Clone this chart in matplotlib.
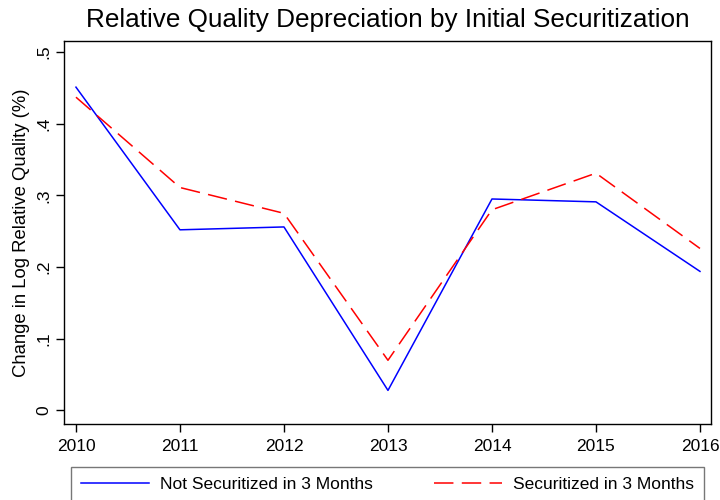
import matplotlib
matplotlib.use("Agg")
import matplotlib.pyplot as plt
from matplotlib.ticker import FixedLocator

plt.rcParams['font.family'] = ['Liberation Sans', 'DejaVu Sans']
plt.rcParams['lines.scale_dashes'] = False

years = [2010, 2011, 2012, 2013, 2014, 2015, 2016]
not_securitized = [0.451, 0.252, 0.256, 0.028, 0.295, 0.291, 0.194]
securitized = [0.437, 0.311, 0.275, 0.070, 0.280, 0.331, 0.226]
yticks = [0, 0.1, 0.2, 0.3, 0.4, 0.5]
ytick_labels = ["0", ".1", ".2", ".3", ".4", ".5"]
title = "Relative Quality Depreciation by Initial Securitization"
ylabel = "Change in Log Relative Quality (%)"
labels = ["Not Securitized in 3 Months", "Securitized in 3 Months"]

fig = plt.figure(figsize=(7.2, 5.0), dpi=100)
ax = fig.add_axes([64/720, 1-424.3/500, (711-64)/720, (424.3-40.7)/500])

ax.plot(years, not_securitized, color=(0, 0, 1), lw=1.1, label=labels[0])
ax.plot(years, securitized, color=(1, 0, 0), lw=1.1, dashes=(14, 6), label=labels[1])

ax.set_xlim(2009.885, 2016.106)
ax.set_ylim(-0.0193, 0.5158)
ax.set_xticks(years)
ax.set_xticklabels([str(y) for y in years], fontsize=12.5)
ax.yaxis.set_major_locator(FixedLocator(yticks))
ax.set_yticklabels(ytick_labels, fontsize=12.5, rotation=90, va='center')
ax.tick_params(axis='both', length=6, width=1.0, color='black', pad=3)
ax.tick_params(axis='x', pad=4.5)
for s in ax.spines.values():
    s.set_linewidth(1.0)
    s.set_color('black')

ax.set_ylabel(ylabel, fontsize=13.3, labelpad=5)
fig.text(388/720, 1-20/500, title, ha='center', va='center', fontsize=18.8)

leg = ax.legend(loc='upper left', bbox_to_anchor=(71/720, 1-466.7/500, (704.3-71)/720, 0),
                bbox_transform=fig.transFigure, ncol=2, mode='expand', fontsize=12.5,
                frameon=True, fancybox=False, edgecolor='#555555', handlelength=3.9,
                borderaxespad=0, borderpad=0.6, handletextpad=0.65, columnspacing=2.0)
leg.get_frame().set_linewidth(1.0)

fig.savefig("out.png", dpi=100)
